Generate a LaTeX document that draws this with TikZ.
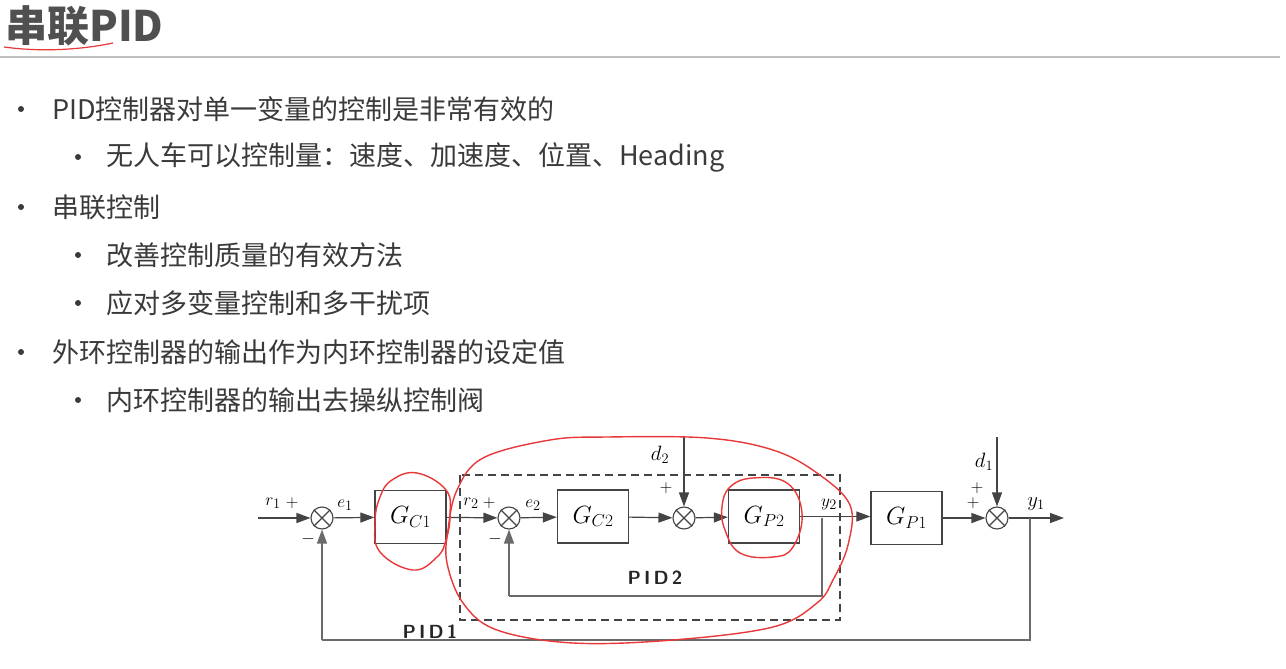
\documentclass[tikz,border=0pt]{standalone}
\usepackage{fontspec}
\setmainfont{Noto Sans CJK SC}
\usetikzlibrary{arrows.meta,positioning,calc}
\definecolor{txt}{HTML}{3A3A3A}
\definecolor{ttl}{HTML}{505050}
\definecolor{ln}{HTML}{444444}
\definecolor{fb}{HTML}{6A6A6A}
\definecolor{pen}{HTML}{E8383A}
\tikzset{
  bul/.style={anchor=west,text=txt,font=\fontsize{27}{30}\selectfont,inner sep=0pt},
  dot/.style={circle,fill=txt,minimum size=6pt,inner sep=0pt},
  blk/.style={draw=ln,line width=1.3pt,minimum width=71pt,minimum height=53pt,inner sep=0pt,font=\fontsize{23}{25}\selectfont},
  sumn/.style={circle,draw=ln,line width=1.1pt,minimum size=22pt,inner sep=0pt},
  sig/.style={draw=ln,line width=1.2pt,-{Triangle[length=14pt,width=10pt]}},
  fbk/.style={draw=fb,line width=1.2pt},
  lab/.style={font=\fontsize{19}{20}\selectfont,inner sep=1pt},
  pidl/.style={font=\sffamily\bfseries\fontsize{19}{20}\selectfont,text=black!85},
  redp/.style={draw=pen,line width=1.4pt}
}
\begin{document}
\begin{tikzpicture}[x=1pt,y=-1pt]
\useasboundingbox (0,0) rectangle (1286,669);
\fill[white] (0,0) rectangle (1286,669);
% title
\node[anchor=west,inner sep=0pt,text=ttl,font=\bfseries\fontsize{42}{46}\selectfont] (title) at (5,26) {串联PID};
\draw[redp,line width=1.2pt] (4,47) .. controls (40,52) and (80,50) .. (113,43);
\draw[draw=black!25,line width=2pt] (0,57) -- (1280,57);
% bullets
\foreach \y/\t [count=\i] in {109/{PID控制器对单一变量的控制是非常有效的},207/{串联控制},352/{外环控制器的输出作为内环控制器的设定值}}{
  \node[bul] (b\i) at (52,\y) {\t};
  \node[dot] (d\i) at (21,\y) {};
}
\foreach \y/\t [count=\i] in {157/{无人车可以控制量：速度、加速度、位置、Heading},255/{改善控制质量的有效方法},303/{应对多变量控制和多干扰项},400/{内环控制器的输出去操纵控制阀}}{
  \node[bul] (s\i) at (106,\y) {\t};
  \node[dot] (sd\i) at (78,\y) {};
}
% diagram
\coordinate (in) at (258,518);
\node[sumn] (s1) at (322,518) {};
\node[blk] (gc1) at (410.5,517) {$G_{C1}$};
\node[sumn] (s2) at (509,518) {};
\node[blk] (gc2) at (593,516.5) {$G_{C2}$};
\node[sumn] (s3) at (684,518) {};
\node[blk] (gp2) at (764,516.5) {$G_{P2}$};
\node[blk] (gp1) at (906.5,518) {$G_{P1}$};
\node[sumn] (s4) at (997,518) {};
\coordinate (out) at (1064,518);
\coordinate (d2t) at (684,437);
\coordinate (d1t) at (997,437);
\coordinate (br2) at (822,518);
\coordinate (br1) at (1030,518);
\coordinate (f2) at (822,596);
\coordinate (f1) at (1030,640);
\foreach \s in {s1,s2,s3,s4}{
  \draw[ln,line width=1.1pt] (\s.north west) -- (\s.south east) (\s.north east) -- (\s.south west);
}
\draw[sig] (in) -- (s1);
\draw[sig] (s1) -- (gc1);
\draw[sig] (gc1) -- (s2);
\draw[sig] (s2) -- (gc2);
\draw[sig] (gc2) -- (s3);
\draw[sig] (s3) -- (gp2);
\draw[sig] (gp2.east) -- (gp2.east -| gp1.west);
\draw[sig] (gp1) -- (s4);
\draw[sig] (s4) -- (out);
\draw[sig] (d2t) -- (s3);
\draw[sig] (d1t) -- (s4);
\draw[fbk] (br2) -- (f2) -- (f2 -| s2);
\draw[sig,draw=fb] (f2 -| s2) -- (s2);
\draw[fbk] (br1) -- (f1) -- (f1 -| s1);
\draw[sig,draw=fb] (f1 -| s1) -- (s1);
% labels
\node[lab] (lr1) at (273,503) {$r_1$};
\node[lab] (lp1) at (292,503) {$+$};
\node[lab] (lm1) at (308,539) {$-$};
\node[lab] (le1) at (345,505) {$e_1$};
\node[lab] (lr2) at (471,503) {$r_2$};
\node[lab] (lp2) at (489,503) {$+$};
\node[lab] (lm2) at (495,539) {$-$};
\node[lab] (le2) at (533,505) {$e_2$};
\node[lab,font=\fontsize{21}{22}\selectfont] (ld2) at (660,455) {$d_2$};
\node[lab] (lp3) at (666,488) {$+$};
\node[lab] (ly2) at (829,504) {$y_2$};
\node[lab,font=\fontsize{21}{22}\selectfont] (ld1) at (984,462) {$d_1$};
\node[lab] (lp4) at (977,488) {$+$};
\node[lab] (lp5) at (973,503) {$+$};
\node[lab,font=\fontsize{21}{22}\selectfont] (ly1) at (1036,504) {$y_1$};
% PID boxes
\draw[draw=ln,line width=1.2pt,dash pattern=on 8pt off 5pt] (460,475) rectangle (840,620);
\node[pidl] (pid2) at (655,578) {P\,I\,D\,2};
\node[pidl] (pid1) at (430,632) {P\,I\,D\,1};
% red annotations
\draw[redp] plot[smooth cycle,tension=0.6] coordinates {(550,440) (607,437) (707,438) (773,450) (817,473) (850,505) (848,545) (833,580) (817,603) (773,627) (673,640) (573,643) (497,630) (463,603) (447,563) (448,530) (457,490) (483,458)};
\draw[redp] plot[smooth cycle,tension=0.7] coordinates {(417,473) (446,490) (450,515) (446,540) (437,557) (413,570) (380,552) (375,523) (380,497) (392,480)};
\draw[redp] plot[smooth cycle,tension=0.7] coordinates {(753,478) (787,483) (802,513) (793,547) (773,557) (740,553) (725,530) (722,507) (730,487)};
\end{tikzpicture}
\end{document}
